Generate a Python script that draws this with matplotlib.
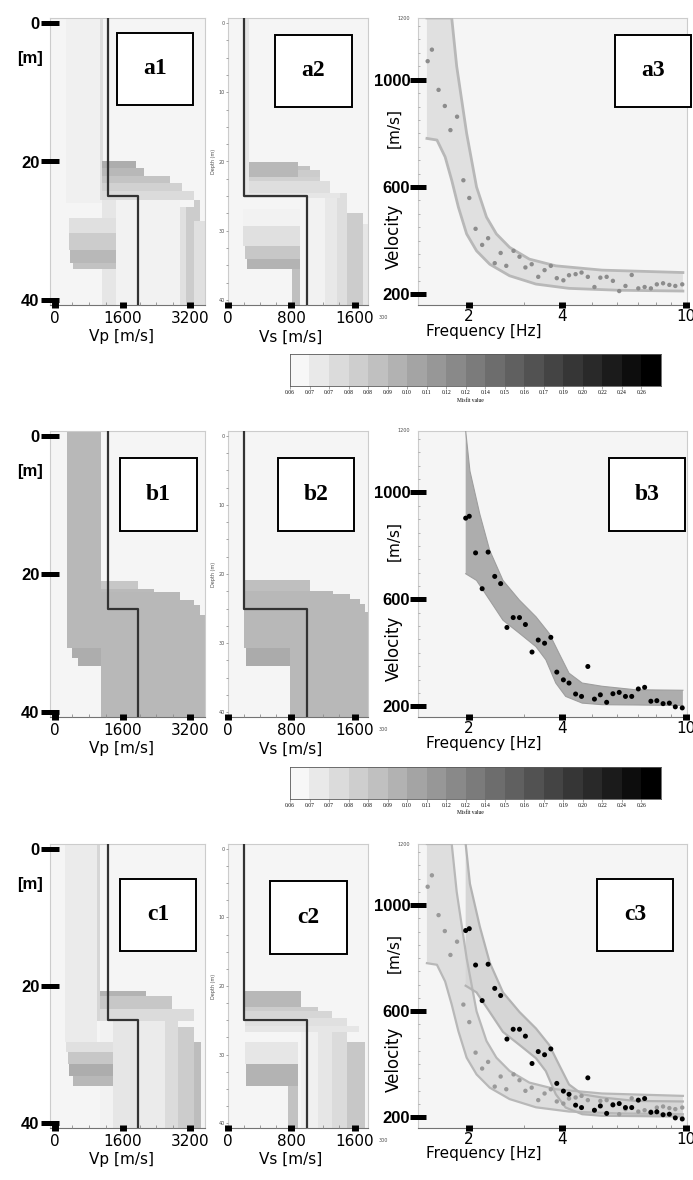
import numpy as np
import matplotlib
matplotlib.use("Agg")
import matplotlib.pyplot as plt
from matplotlib.patches import Rectangle
from matplotlib.colors import ListedColormap
from matplotlib.ticker import FixedLocator, FixedFormatter, MultipleLocator, NullFormatter, LogLocator

plt.rcParams['font.family'] = ['DejaVu Sans']

# ---------------- data ----------------
# reference (true) two-layer model
TRUE_VP = [1260, 1960]
TRUE_VS = [200, 1000]
TRUE_Z = 25.0

# shaded ensemble areas: (v_left, v_right, z_top, z_bottom, grey)
A1_BLOCKS = [
    (250, 1100, -1, 26.0, 0.94), (1070, 1130, -1, 25.5, 0.87),
    (1100, 1450, 25.5, 41, 0.90), (1450, 2966, 24.0, 41, 0.95),
    (2966, 3100, 26.5, 41, 0.88), (3100, 3300, 26.5, 41, 0.80),
    (3300, 3550, 28.6, 41, 0.88), (3278, 3434, 25.5, 28.6, 0.80),
    (1100, 3278, 24.3, 25.5, 0.86), (1100, 3006, 23.1, 24.3, 0.82),
    (1100, 2733, 22.1, 23.1, 0.77), (1100, 2110, 21.0, 22.1, 0.72),
    (1100, 1915, 19.96, 21.0, 0.68),
    (319, 1448, 28.1, 30.3, 0.88), (330, 1448, 30.3, 32.7, 0.80),
    (350, 1448, 32.7, 34.6, 0.72), (420, 1448, 34.6, 35.5, 0.76),
]
A2_BLOCKS = [
    (205, 270, -1, 25.3, 0.90),
    (1012, 1222, 25.3, 41, 0.95), (1222, 1369, 24.5, 41, 0.91),
    (1369, 1495, 24.5, 41, 0.87), (1495, 1705, 27.4, 41, 0.80),
    (1705, 1789, 29.0, 41, 0.90),
    (270, 1411, 24.5, 25.3, 0.90), (270, 1285, 22.8, 24.5, 0.87),
    (270, 1159, 22.2, 22.8, 0.82), (886, 1159, 21.2, 22.2, 0.80),
    (886, 1033, 20.6, 21.2, 0.76), (270, 886, 20.0, 22.2, 0.72),
    (185, 907, 26.9, 29.3, 0.95), (195, 907, 29.3, 32.2, 0.88),
    (210, 907, 32.2, 34.1, 0.78), (235, 907, 34.1, 35.5, 0.70),
    (802, 907, 35.5, 41, 0.75),
]
B1_BLOCKS = [
    (280, 1098, -1, 30.7, 0.72), (1098, 3550, 26.0, 41, 0.72),
    (1098, 3434, 24.5, 26.0, 0.72), (1098, 3278, 23.8, 24.5, 0.72),
    (1098, 2967, 22.6, 23.8, 0.72), (1098, 2343, 22.1, 22.6, 0.73),
    (1098, 1955, 20.95, 22.1, 0.78),
    (397, 1098, 30.7, 32.1, 0.68), (553, 1098, 32.1, 33.3, 0.68),
]
B2_BLOCKS = [
    (202, 1029, 20.9, 22.4, 0.75), (202, 1323, 22.4, 22.9, 0.72),
    (202, 1533, 22.9, 23.6, 0.72), (202, 1659, 23.6, 24.3, 0.72),
    (202, 1722, 24.3, 25.5, 0.72), (202, 1770, 25.5, 30.7, 0.72),
    (230, 1770, 30.7, 33.3, 0.72), (230, 777, 30.7, 33.3, 0.67),
    (777, 1770, 33.3, 41, 0.72),
]
C1_BLOCKS = [
    (230, 998, -1, 28.2, 0.92), (998, 1074, -1, 25.1, 0.84),
    (1074, 1380, 25.1, 41, 0.95), (1380, 1955, 25.1, 41, 0.90),
    (1955, 2608, 25.1, 41, 0.92), (2608, 2914, 25.1, 41, 0.86),
    (2914, 3298, 26.0, 41, 0.80), (3298, 3450, 28.2, 41, 0.74),
    (1074, 3298, 23.4, 25.1, 0.86), (1074, 2760, 21.5, 23.4, 0.78),
    (1074, 2148, 20.8, 21.5, 0.70),
    (260, 1380, 28.2, 29.6, 0.88), (308, 1380, 29.6, 31.3, 0.78),
    (330, 1380, 31.3, 33.1, 0.68), (423, 1380, 33.1, 34.6, 0.72),
]
C2_BLOCKS = [
    (926, 1137, 25.0, 41, 0.94), (1137, 1305, 25.0, 41, 0.90),
    (1305, 1494, 25.8, 41, 0.86), (1494, 1727, 28.2, 41, 0.78),
    (211, 1650, 25.8, 26.7, 0.90), (211, 1494, 24.6, 25.8, 0.88),
    (211, 1305, 23.7, 24.6, 0.84), (211, 1137, 23.0, 23.7, 0.80),
    (211, 926, 20.8, 23.0, 0.72),
    (211, 884, 28.2, 31.3, 0.90), (230, 884, 31.3, 34.6, 0.70),
    (758, 884, 34.6, 41, 0.76),
]

# dispersion envelopes (frequency Hz, velocity m/s)
A_UP_F = [1.464, 1.760, 1.826, 1.966, 2.116, 2.278, 2.452, 2.704, 3.133, 3.812, 5.373, 9.797]
A_UP_V = [1230, 1230, 1050, 800, 600, 488, 425, 375, 331, 306, 290, 281]
A_LO_F = [1.464, 1.577, 1.676, 1.760, 1.849, 1.966, 2.116, 2.334, 2.704, 3.290, 4.205, 6.074, 9.797]
A_LO_V = [781, 775, 712, 625, 525, 425, 362, 312, 269, 238, 222, 215, 212]
B_UP_F = [1.952, 2.015, 2.168, 2.334, 2.575, 2.911, 3.290, 3.629, 3.906, 4.205, 4.638, 5.373, 6.866, 9.797]
B_UP_V = [1230, 1080, 919, 783, 671, 597, 535, 473, 398, 324, 287, 275, 262, 260]
B_LO_F = [1.952, 2.116, 2.334, 2.575, 2.911, 3.290, 3.541, 3.812, 4.102, 4.638, 5.373, 6.866, 9.797]
B_LO_V = [696, 671, 597, 522, 473, 423, 374, 287, 237, 212, 206, 205, 203]

# measured dispersion points
A_DOT_F = [1.472, 1.519, 1.596, 1.672, 1.743, 1.831, 1.919, 2.005, 2.101, 2.206, 2.306,
           2.422, 2.531, 2.639, 2.785, 2.911, 3.042, 3.187, 3.346, 3.507, 3.674, 3.840,
           4.033, 4.205, 4.416, 4.615, 4.836, 5.079, 5.307, 5.561, 5.826, 6.105, 6.395,
           6.699, 7.036, 7.373, 7.724, 8.072, 8.456, 8.860, 9.260, 9.750]
A_DOT_V = [1069, 1112, 962, 902, 812, 862, 625, 559, 444, 384, 409, 316, 354, 306, 362,
           340, 300, 312, 265, 290, 306, 260, 252, 271, 275, 281, 265, 227, 262, 265,
           250, 212, 231, 272, 222, 227, 222, 237, 241, 235, 231, 237]
B_DOT_F = [1.952, 2.005, 2.101, 2.206, 2.306, 2.422, 2.531, 2.652, 2.778, 2.911, 3.042,
           3.195, 3.346, 3.507, 3.674, 3.840, 4.033, 4.205, 4.416, 4.615, 4.836, 5.079,
           5.307, 5.561, 5.826, 6.105, 6.395, 6.699, 7.036, 7.373, 7.724, 8.072, 8.456,
           8.860, 9.260, 9.750]
B_DOT_V = [904, 911, 774, 640, 777, 686, 659, 495, 532, 532, 506, 403, 448, 436, 458,
           328, 299, 287, 246, 237, 349, 227, 243, 215, 247, 252, 237, 237, 265, 271,
           219, 221, 210, 212, 198, 194]

MISFIT_LABELS = ['0.06', '0.07', '0.07', '0.08', '0.08', '0.09', '0.10', '0.11', '0.12', '0.12',
                 '0.14', '0.15', '0.16', '0.17', '0.19', '0.20', '0.22', '0.24', '0.26']

VP_TICKS = [0, 1600, 3200]
VS_TICKS = [0, 800, 1600]
F_TICKS = [2, 4, 10]
V_TICKS = [200, 600, 1000]
DEPTH_TICKS = [0, 20, 40]

# ---------------- layout ----------------
W, H = 693, 1180
fig = plt.figure(figsize=(W / 100, H / 100), dpi=100)
fig.patch.set_facecolor('white')


def add_ax(l, t, r, b):
    return fig.add_axes([l / W, 1 - b / H, (r - l) / W, (b - t) / H])


ROWS = [(18, 305), (431, 717), (844, 1128)]
COL_VP = (50, 205)
COL_VS = (228, 368)
COL_F = (418, 687)
BIG = dict(fontsize=12, fontweight='bold', family='Liberation Sans')


def frame(ax):
    ax.set_facecolor('#f5f5f5')
    for s in ax.spines.values():
        s.set_color('0.8')
        s.set_linewidth(0.8)
        s.set_zorder(1.2)
    ax.spines['bottom'].set_color('0.45')


def profile(col, row, blocks, true_v, xlim, ticks, minor, xlabel, lab_x, depth_big):
    ax = add_ax(col[0], row[0], col[1], row[1])
    frame(ax)
    for v0, v1, z0, z1, g in blocks:
        ax.add_patch(Rectangle((v0, z0), v1 - v0, z1 - z0, facecolor=str(g), edgecolor='none'))
    ax.plot([true_v[0], true_v[0], true_v[1], true_v[1]], [-1, TRUE_Z, TRUE_Z, 41],
            color='0.2', lw=1.6)
    ax.set_xlim(*xlim)
    ax.set_ylim(40.7, -0.7)
    ax.xaxis.set_major_locator(FixedLocator(ticks))
    ax.xaxis.set_major_formatter(FixedFormatter([str(t) for t in ticks]))
    ax.xaxis.set_minor_locator(MultipleLocator(minor))
    ax.tick_params(axis='x', which='major', direction='inout', length=5, width=5,
                   color='black', pad=1.5, labelsize=11)
    ax.tick_params(axis='x', which='minor', direction='in', length=2, width=0.6, color='0.55')
    ax.set_xlabel(xlabel, fontsize=11)
    ax.xaxis.set_label_coords(lab_x, -0.085)
    if depth_big:
        ax.set_yticks(DEPTH_TICKS, labels=[str(t) for t in DEPTH_TICKS], **BIG)
        ax.tick_params(axis='y', direction='inout', length=13, width=3.6, color='black', pad=1)
        ax.text(-0.13, 5.2, '[m]', transform=ax.get_yaxis_transform(),
                ha='center', va='center', **BIG)
    else:
        ax.set_yticks([0, 10, 20, 30, 40], labels=['0', '10', '20', '30', '40'], fontsize=3.5,
                      color='0.3')
        ax.yaxis.set_minor_locator(MultipleLocator(2.5))
        ax.tick_params(axis='y', which='both', direction='out', length=1.5, width=0.5,
                       color='0.5', pad=1)
        ax.set_ylabel('Depth (m)', fontsize=3.5, labelpad=2, color='0.3')
    return ax


def dispersion(row, bands, dots):
    ax = add_ax(COL_F[0], row[0], COL_F[1], row[1])
    frame(ax)
    for up_f, up_v, lo_f, lo_v, fill, edge, lw in bands:
        ax.fill(list(up_f) + list(lo_f[::-1]), list(up_v) + list(lo_v[::-1]),
                facecolor=fill, edgecolor='none')
        ax.plot(up_f, up_v, color=edge, lw=lw)
        ax.plot(lo_f, lo_v, color=edge, lw=lw)
    for f, v, c, s in dots:
        ax.scatter(f, v, s=s, color=c, edgecolors='none', zorder=5)
    ax.set_xscale('log')
    ax.set_xlim(1.37, 10.1)
    ax.set_ylim(160, 1230)
    ax.xaxis.set_major_locator(FixedLocator(F_TICKS))
    ax.xaxis.set_major_formatter(FixedFormatter([str(t) for t in F_TICKS]))
    ax.xaxis.set_minor_locator(LogLocator(base=10, subs=np.arange(2, 10) * 0.1, numticks=20))
    ax.xaxis.set_minor_formatter(NullFormatter())
    ax.tick_params(axis='x', which='major', direction='inout', length=5, width=5,
                   color='black', pad=0.5, labelsize=11)
    ax.tick_params(axis='x', which='minor', direction='in', length=2, width=0.6, color='0.55')
    ax.set_xlabel('Frequency [Hz]', fontsize=11)
    ax.xaxis.set_label_coords(0.245, -0.065)
    ax.set_yticks(V_TICKS, labels=[str(t) for t in V_TICKS], **BIG)
    ax.yaxis.set_minor_locator(MultipleLocator(50))
    ax.tick_params(axis='y', which='major', direction='inout', length=11, width=3.6,
                   color='black', pad=0)
    ax.tick_params(axis='y', which='minor', direction='in', length=1.5, width=0.5, color='0.6')
    ax.text(-0.09, 0.617, '[m/s]', transform=ax.transAxes, rotation=90,
            ha='center', va='center', fontsize=11)
    ax.text(-0.09, 0.24, 'Velocity', transform=ax.transAxes, rotation=90,
            ha='center', va='center', fontsize=12)
    ax.text(-0.03, 1.0, '1200', transform=ax.transAxes, ha='right', va='center',
            fontsize=3.5, color='0.3')
    ax.text(-0.13, -0.045, '300', transform=ax.transAxes, ha='center', va='center',
            fontsize=3.5, color='0.3')
    return ax


A_BAND = (A_UP_F, A_UP_V, A_LO_F, A_LO_V)
B_BAND = (B_UP_F, B_UP_V, B_LO_F, B_LO_V)

# row a
profile(COL_VP, ROWS[0], A1_BLOCKS, TRUE_VP, (-120, 3550), VP_TICKS, 400, 'Vp [m/s]', 0.46, True)
profile(COL_VS, ROWS[0], A2_BLOCKS, TRUE_VS, (0, 1765), VS_TICKS, 200, 'Vs [m/s]', 0.45, False)
dispersion(ROWS[0], [A_BAND + ('0.88', '0.72', 2.0)], [(A_DOT_F, A_DOT_V, '0.55', 10)])
# row b
profile(COL_VP, ROWS[1], B1_BLOCKS, TRUE_VP, (-120, 3550), VP_TICKS, 400, 'Vp [m/s]', 0.46, True)
profile(COL_VS, ROWS[1], B2_BLOCKS, TRUE_VS, (0, 1765), VS_TICKS, 200, 'Vs [m/s]', 0.45, False)
dispersion(ROWS[1], [B_BAND + ('0.68', '0.62', 0.8)], [(B_DOT_F, B_DOT_V, 'black', 13)])
# row c
profile(COL_VP, ROWS[2], C1_BLOCKS, TRUE_VP, (-120, 3550), VP_TICKS, 400, 'Vp [m/s]', 0.46, True)
profile(COL_VS, ROWS[2], C2_BLOCKS, TRUE_VS, (0, 1765), VS_TICKS, 200, 'Vs [m/s]', 0.45, False)
dispersion(ROWS[2], [A_BAND + ('0.87', '0.72', 1.6), B_BAND + ('0.84', '0.70', 1.6)],
           [(A_DOT_F, A_DOT_V, '0.6', 10), (B_DOT_F, B_DOT_V, 'black', 13)])

# misfit colour scales
greys = np.linspace(0.97, 0.0, len(MISFIT_LABELS))
misfit_cmap = ListedColormap([(g, g, g) for g in greys])
for top, bot in [(354, 386), (767, 799)]:
    cax = add_ax(290, top, 661, bot)
    cax.imshow(np.arange(len(MISFIT_LABELS))[None, :], cmap=misfit_cmap, aspect='auto',
               extent=(0, len(MISFIT_LABELS), 0, 1))
    cax.set_xticks(np.arange(len(MISFIT_LABELS)), labels=MISFIT_LABELS, fontsize=4,
                   family='Liberation Serif')
    cax.set_yticks([])
    cax.tick_params(axis='x', length=2, width=0.4, pad=1, color='0.4')
    for s in cax.spines.values():
        s.set_linewidth(0.6)
        s.set_color('0.35')
    fig.text(470 / W, 1 - (bot + 14) / H, 'Misfit value', fontsize=4,
             family='Liberation Serif', ha='center', va='center')

# panel tags
TAGS = [('a1', 117, 33, 193, 105), ('a2', 275, 35, 352, 107), ('a3', 615, 35, 691, 107),
        ('b1', 120, 458, 197, 531), ('b2', 278, 458, 354, 531), ('b3', 609, 458, 685, 531),
        ('c1', 120, 879, 196, 951), ('c2', 270, 881, 347, 954), ('c3', 597, 879, 673, 951)]
for name, l, t, r, b in TAGS:
    fig.add_artist(Rectangle((l / W, 1 - b / H), (r - l) / W, (b - t) / H,
                             transform=fig.transFigure, facecolor='white',
                             edgecolor='black', lw=1.4, zorder=10))
    fig.text((l + r) / 2 / W, 1 - (t + b) / 2 / H, name, ha='center', va='center',
             fontsize=17, fontweight='bold', family='Liberation Serif', zorder=11)

fig.savefig('out.png', dpi=100)
